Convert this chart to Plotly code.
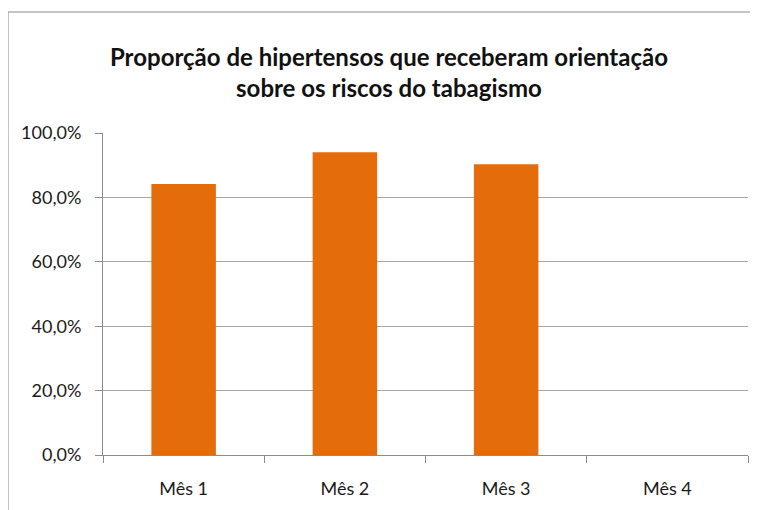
import plotly.graph_objects as go

categories = ["Mês 1", "Mês 2", "Mês 3", "Mês 4"]
values = [0.842, 0.940, 0.903, None]
y_ticks = [0, 0.2, 0.4, 0.6, 0.8, 1.0]

title_text = "Proporção de hipertensos que receberam orientação<br>sobre os riscos do tabagismo"

# page body has an 8px margin; compensate so the plot lands where the reference has it
OFF = 8
W, H = 758, 510
L, R, T, B = 103 - OFF, 18, 133 - OFF, 63
pw, ph = W - L - R, H - T - B

def px_x(p):
    return (p - OFF - L) / pw

def px_y(p):
    return (H - B - (p - OFF)) / ph

fig = go.Figure(go.Bar(
    x=categories, y=values,
    marker=dict(color="#E46C0A", line=dict(width=0)),
    width=0.4,
))

fig.update_layout(
    width=W, height=H,
    margin=dict(l=L, r=R, t=T, b=B),
    paper_bgcolor="white", plot_bgcolor="white",
    separators=",.",
    showlegend=False,
    font=dict(family="Lato, Liberation Sans, sans-serif", size=18, color="#1a1a1a"),
    title=dict(
        text=title_text,
        x=(389 - OFF) / W, xanchor="center", xref="container",
        y=1 - (66 - OFF) / H, yanchor="middle", yref="container",
        font=dict(family="Lato, sans-serif", size=24, color="#111111", weight="bold"),
    ),
    shapes=[dict(
        type="rect", xref="paper", yref="paper",
        x0=px_x(8), x1=px_x(752), y0=px_y(530), y1=px_y(12),
        line=dict(color="#8C8C8C", width=1), fillcolor="rgba(0,0,0,0)", layer="below",
    )],
)

fig.update_xaxes(
    type="category",
    showline=True, linecolor="#8C8C8C", linewidth=1,
    ticks="outside", tickson="boundaries", ticklen=7, tickcolor="#8C8C8C",
    showgrid=False,
    ticklabelstandoff=17,
    tickfont=dict(size=18, color="#1a1a1a"),
    range=[-0.5, 3.5],
)

fig.update_yaxes(
    range=[0, 1.0],
    tickvals=y_ticks, tickformat=".1%",
    showline=True, linecolor="#8C8C8C", linewidth=1,
    ticks="outside", ticklen=7, tickcolor="#8C8C8C",
    showgrid=True, gridcolor="#A6A6A6", gridwidth=1,
    zeroline=False,
    ticklabelstandoff=10,
    tickfont=dict(size=18, color="#1a1a1a"),
)

fig.write_html("out.html")
